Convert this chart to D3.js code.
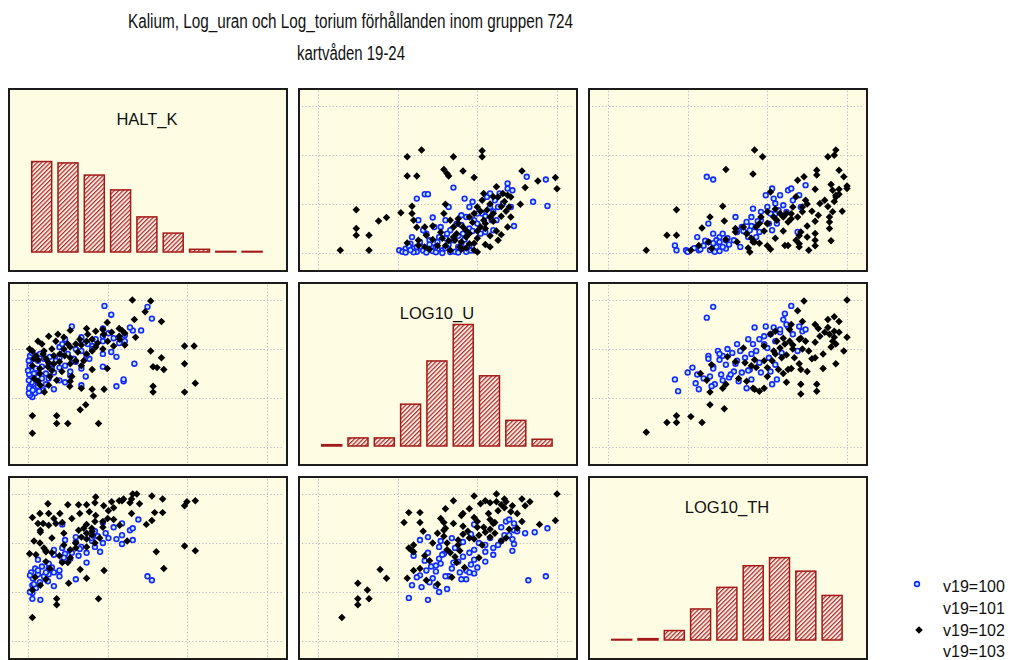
<!DOCTYPE html>
<html><head><meta charset="utf-8">
<script src="https://cdn.jsdelivr.net/npm/d3@7"></script>
<style>body{margin:0;background:#fff;} svg{display:block;font-family:"Liberation Sans",Arial,sans-serif;}</style>
</head><body><svg id="c" width="1014" height="660"></svg>
<script>
// ---------- text ----------
const titleLine1 = "Kalium, Log_uran och Log_torium förhållanden inom gruppen 724";
const titleLine2 = "kartvåden 19-24";
const varNames = ["HALT_K", "LOG10_U", "LOG10_TH"];
const seriesNames = ["v19=100", "v19=101", "v19=102", "v19=103"];

// ---------- axis ticks (grid lines) ----------
const ticksK = [0, 2, 4, 6];
const ticksU = [0, 0.5, 1.0, 1.5];
const ticksTh = [0, 0.5, 1.0, 1.5];

// ---------- histogram counts (9 bins each) ----------
const histBins = ["b1","b2","b3","b4","b5","b6","b7","b8","b9"];
const histK  = [67, 66, 57, 46, 26, 14, 2, 0, 0];
const histU  = [1, 6, 6, 31, 63, 90, 52, 19, 5];
const histTh = [0, 1, 7, 23, 39, 55, 61, 51, 33];

// ---------- scatter data: [K, U] ----------
const kuV100 = [[0.11,0.51],[0.18,0.55],[0.65,0.59],[0.18,0.60],[2.22,0.62],[1.34,0.63],[0.25,0.65],[2.40,0.67],[2.40,0.69],[0.79,0.68],[0.52,0.70],[1.45,0.72],[1.06,0.73],[0.25,0.74],[0.65,0.76],[0.11,0.78],[1.34,0.80],[1.88,0.82],[0.93,0.83],[2.67,0.85],[0.52,0.85],[1.20,0.87],[0.25,0.88],[1.54,0.90],[0.79,0.91],[2.22,0.92],[0.18,0.92],[1.88,0.95],[2.09,0.97],[1.34,0.98],[1.20,1.00],[0.79,1.02],[1.61,1.03],[0.86,1.05],[2.29,1.06],[1.88,1.08],[1.34,1.09],[0.93,1.10],[2.15,1.11],[1.34,1.12],[1.88,1.13],[2.43,1.14],[2.02,1.16],[2.84,1.19],[2.63,1.19],[1.88,1.21],[2.56,1.22],[1.10,1.23],[3.11,1.31],[2.09,1.35],[3.00,1.43],[1.92,1.44],[2.43,1.08],[1.61,1.00],[1.47,0.93],[0.79,0.81],[1.06,0.77],[0.93,0.66],[0.38,0.58],[0.25,0.71],[0.05,0.62],[0.10,0.66],[0.08,0.72],[0.15,0.75],[0.20,0.80],[0.05,0.86],[0.35,0.70],[0.45,0.64],[0.28,0.57],[0.05,0.53],[0.30,0.95],[0.40,0.90],[0.02,0.55],[0.03,0.60],[0.02,0.68],[0.03,0.74],[0.00,0.78],[0.04,0.83],[0.02,0.88],[0.05,0.93],[0.10,0.96],[0.45,0.75],[0.60,0.80],[0.70,0.88],[0.55,0.92],[1.00,0.95],[1.15,0.90],[0.90,0.97],[1.50,1.05],[1.70,1.10],[0.35,0.82],[0.12,0.58],[0.25,0.62]];
const kuV102 = [[0.11,0.14],[0.11,0.32],[1.77,0.24],[1.00,0.24],[0.72,0.24],[0.72,0.32],[1.31,0.38],[1.45,0.43],[1.64,0.52],[3.93,0.56],[3.14,0.56],[3.14,0.62],[4.20,0.65],[1.91,0.59],[1.61,0.59],[1.34,0.60],[0.41,0.56],[0.52,0.63],[0.31,0.63],[0.25,0.67],[1.06,0.67],[0.72,0.68],[3.41,0.79],[3.24,0.81],[3.14,0.82],[3.93,0.85],[3.35,0.91],[3.08,0.98],[4.17,1.03],[3.93,1.03],[1.99,0.80],[1.61,0.79],[1.34,0.83],[1.06,0.85],[0.79,0.87],[0.52,0.86],[0.25,0.89],[0.11,0.83],[1.06,0.91],[0.65,0.93],[0.38,0.95],[0.11,0.98],[0.04,1.00],[1.61,0.98],[1.88,1.00],[2.15,1.03],[2.43,1.04],[1.75,1.06],[1.47,1.08],[1.61,1.10],[2.70,1.12],[2.29,1.13],[2.43,1.16],[2.36,1.19],[2.29,1.21],[1.88,1.20],[1.47,1.21],[1.06,1.19],[0.52,1.13],[1.99,1.27],[3.35,1.28],[2.67,1.30],[2.94,1.38],[3.08,1.49],[2.62,1.50],[1.06,1.02],[1.34,1.04],[1.47,0.95],[0.92,0.93],[0.65,0.85],[1.20,0.88],[0.45,0.90],[0.80,0.95],[1.25,0.97],[1.00,1.05],[2.00,1.08],[1.90,1.15],[2.10,1.17],[1.30,1.10],[0.30,0.75],[0.55,0.72],[0.85,0.77],[0.15,0.70],[1.05,0.62],[0.60,1.00],[0.30,0.80],[0.50,0.82],[0.20,0.93],[0.35,1.05],[0.70,1.08],[0.90,1.12],[1.50,1.15],[1.70,1.18],[1.20,1.05],[0.90,1.00],[0.60,0.78],[1.10,0.72],[0.40,0.98],[0.15,0.90],[1.70,1.02],[2.30,1.10],[1.40,0.88],[0.75,1.15],[0.25,1.08]];

// ---------- scatter data: [K, Th] ----------
const kthV100 = [[0.31,0.42],[0.11,0.43],[0.11,0.49],[0.65,0.56],[0.11,0.57],[3.11,0.62],[3.00,0.66],[1.20,0.63],[0.45,0.63],[0.79,0.66],[0.25,0.68],[0.65,0.70],[0.79,0.72],[0.18,0.74],[1.47,0.80],[0.86,0.81],[0.25,0.83],[1.06,0.84],[1.27,0.87],[0.93,0.89],[1.47,0.90],[1.81,0.91],[1.06,0.92],[0.86,0.95],[1.34,0.96],[2.36,0.99],[1.88,1.00],[1.20,1.01],[1.61,1.02],[2.63,1.03],[2.22,1.04],[1.20,1.06],[1.75,1.07],[2.36,1.08],[1.95,1.10],[2.56,1.13],[2.63,1.15],[2.15,1.16],[0.86,1.19],[2.36,1.20],[1.88,1.21],[2.77,1.24],[1.68,0.96],[0.65,0.93],[0.52,0.79],[0.52,0.68],[0.52,0.74],[0.65,0.88],[0.93,1.03],[1.68,1.12],[2.02,1.05],[0.05,0.50],[0.20,0.54],[0.30,0.60],[0.12,0.64],[0.08,0.70],[0.35,0.76],[0.50,0.61],[0.15,0.58],[0.25,0.72],[0.40,0.66],[0.60,0.75],[0.90,0.85],[1.10,0.90],[1.30,0.94],[1.60,1.05],[0.45,0.70],[0.05,0.67]];
const kthV102 = [[0.11,0.24],[0.72,0.37],[0.72,0.43],[1.77,0.43],[0.11,0.52],[0.31,0.57],[1.02,0.59],[1.47,0.64],[0.45,0.63],[0.18,0.65],[1.91,0.72],[1.31,0.73],[3.41,0.74],[0.55,0.74],[0.86,0.80],[1.06,0.85],[0.04,0.89],[3.22,0.91],[4.20,0.92],[3.93,0.97],[0.45,0.92],[1.20,0.95],[1.47,0.96],[1.68,1.00],[2.49,1.02],[1.47,1.04],[1.61,1.08],[1.47,1.10],[0.31,1.11],[0.31,1.13],[1.27,1.13],[1.88,1.16],[0.52,1.18],[2.97,1.19],[0.38,1.20],[0.86,1.21],[1.68,1.22],[3.11,1.23],[2.15,1.24],[0.65,1.25],[0.11,1.26],[0.52,1.30],[3.38,1.31],[3.18,1.31],[1.54,1.32],[2.02,1.33],[2.15,1.36],[3.93,1.38],[1.47,1.39],[1.00,1.39],[1.27,1.39],[2.56,1.41],[1.68,1.41],[3.99,1.42],[4.20,1.43],[2.36,1.43],[2.29,1.43],[3.38,1.45],[3.11,1.48],[2.73,1.50],[2.63,1.50],[0.45,0.91],[0.45,0.81],[0.79,0.87],[1.06,0.93],[1.20,1.00],[1.34,1.06],[1.61,1.12],[1.47,1.19],[1.88,1.22],[0.60,1.05],[0.90,1.10],[1.20,1.00],[1.60,1.15],[1.80,1.05],[2.00,1.25],[2.30,1.18],[0.40,0.95],[1.00,0.80],[0.20,0.88],[0.15,1.02],[2.60,1.30],[2.40,1.45],[0.80,1.30],[1.70,1.28],[0.30,1.30],[0.50,1.40],[0.70,1.20],[1.10,1.25],[1.30,1.30],[1.90,1.38],[2.10,1.42],[2.60,1.45],[0.30,1.00],[0.60,0.90],[0.90,0.98],[1.40,1.15],[0.25,1.20],[1.70,1.47],[2.80,1.40]];

// ---------- scatter data: [U, Th] ----------
const uthV100 = [[0.69,0.42],[0.57,0.44],[0.76,0.50],[0.81,0.53],[0.65,0.55],[0.59,0.57],[1.32,0.62],[1.43,0.66],[0.93,0.63],[0.72,0.64],[0.82,0.66],[0.64,0.67],[0.98,0.69],[0.89,0.70],[0.74,0.71],[0.84,0.74],[0.71,0.76],[0.96,0.78],[0.77,0.79],[0.88,0.81],[0.67,0.82],[0.98,0.83],[0.76,0.84],[0.91,0.86],[1.10,0.88],[0.79,0.89],[0.69,0.90],[1.22,0.92],[0.98,0.93],[0.86,0.95],[0.76,0.96],[1.13,0.98],[1.23,0.99],[1.01,1.00],[0.91,1.01],[0.77,1.02],[0.64,1.03],[1.22,1.04],[1.08,1.05],[0.69,1.06],[1.17,1.08],[0.96,1.09],[1.36,1.11],[1.23,1.13],[1.44,1.15],[1.15,1.16],[0.98,1.19],[1.23,1.20],[1.18,1.22],[1.20,1.24],[1.05,0.81],[1.05,0.91],[0.74,0.77],[0.60,0.87],[0.93,0.72],[0.84,1.05],[0.74,0.56],[0.70,0.60],[0.80,0.66],[0.90,0.63],[0.95,0.70],[1.00,0.75],[0.85,0.80],[0.78,0.88],[0.95,0.90],[1.10,0.95],[1.15,1.02],[1.20,1.08],[1.25,1.12],[0.68,0.72],[0.62,0.65],[1.30,1.10],[1.05,0.98]];
const uthV102 = [[0.15,0.24],[0.25,0.37],[0.25,0.43],[0.32,0.43],[0.31,0.52],[0.25,0.59],[0.43,0.64],[0.56,0.64],[0.39,0.73],[0.68,0.62],[0.75,0.58],[0.84,0.65],[0.60,0.72],[0.64,0.74],[0.87,0.80],[1.01,0.85],[0.86,0.86],[0.67,0.87],[0.60,0.91],[0.59,0.92],[0.81,0.93],[0.57,0.95],[0.60,0.98],[0.89,0.92],[0.81,1.00],[1.15,1.02],[0.88,1.03],[1.08,1.06],[0.79,1.07],[0.91,1.09],[1.05,1.11],[0.94,1.12],[0.79,1.13],[1.20,1.14],[1.00,1.16],[0.91,1.17],[1.39,1.19],[1.11,1.21],[0.79,1.21],[0.64,1.21],[0.54,1.21],[1.28,1.22],[1.49,1.23],[1.08,1.24],[0.77,1.25],[0.98,1.26],[0.91,1.30],[0.64,1.31],[0.57,1.31],[1.21,1.32],[1.13,1.33],[1.17,1.36],[1.30,1.38],[1.15,1.39],[1.08,1.41],[1.18,1.42],[1.05,1.43],[0.85,1.43],[1.28,1.45],[0.98,1.48],[1.50,1.50],[1.12,1.50],[0.98,1.04],[1.01,1.08],[1.11,1.10],[1.08,1.14],[0.80,1.15],[0.85,1.20],[0.90,1.28],[0.95,1.35],[1.02,1.40],[1.07,1.30],[1.12,1.42],[1.17,1.45],[1.22,1.38],[1.25,1.30],[0.88,0.98],[0.95,1.05],[1.00,1.22],[0.72,1.00],[0.75,1.10],[0.70,0.82],[0.83,0.90],[0.92,0.75],[1.03,0.98],[1.10,1.20],[0.80,1.35],[0.66,1.12],[1.18,1.05],[1.25,1.15],[1.33,1.42],[1.04,1.16]];

// ---------- layout ----------
const svg = d3.select("#c");
const PW = 278, PH = 182;
const colX = [9, 299, 589], rowY = [89, 283, 477];
const ticks = [ticksK, ticksU, ticksTh];
const hists = [histK, histU, histTh];
const pairs = {
  "0-1": {v100: kuV100, v102: kuV102},
  "0-2": {v100: kthV100, v102: kthV102},
  "1-2": {v100: uthV100, v102: uthV102}
};
const bg = "#fefde4", red = "#a31818";

const defs = svg.append("defs");
const pat = defs.append("pattern").attr("id","hatch").attr("patternUnits","userSpaceOnUse")
  .attr("width",3.1).attr("height",3.1).attr("patternTransform","rotate(45)");
pat.append("rect").attr("width",3.1).attr("height",3.1).attr("fill","#fbeee2");
pat.append("line").attr("x1",0.6).attr("y1",0).attr("x2",0.6).attr("y2",3.1).attr("stroke","#b42a2a").attr("stroke-width",1.25);

// title
svg.append("text").attr("x",350.5).attr("y",28).attr("text-anchor","middle").attr("font-size",20)
  .attr("textLength",445).attr("lengthAdjust","spacingAndGlyphs").attr("fill","#111").text(titleLine1);
svg.append("text").attr("x",351).attr("y",60).attr("text-anchor","middle").attr("font-size",20)
  .attr("textLength",108).attr("lengthAdjust","spacingAndGlyphs").attr("fill","#111").text(titleLine2);

const diamond = d3.symbol().type(d3.symbolSquare).size(28)();
const xs = ticks.map(t => d3.scaleLinear().domain([t[0], t[t.length-1]]).range([19, 258]));
const ys = ticks.map(t => d3.scaleLinear().domain([t[0], t[t.length-1]]).range([164, 17]));

for (let r = 0; r < 3; r++) {
  for (let c = 0; c < 3; c++) {
    const g = svg.append("g").attr("transform", `translate(${colX[c]},${rowY[r]})`);
    g.append("rect").attr("width",PW).attr("height",PH).attr("fill",bg);
    if (r === c) {
      const band = d3.scaleBand().domain(histBins).range([22.7, 253.1]).paddingInner(0.24).paddingOuter(0);
      const hy = d3.scaleLinear().domain([0, 100]).range([163, 28]);
      g.selectAll("rect.bar").data(hists[r]).join("rect").attr("class","bar")
        .attr("x",(d,i)=>band(histBins[i])).attr("width",band.bandwidth())
        .attr("y",d=>Math.min(hy(d), 162.4)).attr("height",d=>Math.max(hy(0)-hy(d), 0.6))
        .attr("fill","url(#hatch)").attr("stroke",red).attr("stroke-width",1.5);
      g.append("text").attr("x",138).attr("y",35.5).attr("text-anchor","middle")
        .attr("font-size",16.5).attr("fill","#111").text(varNames[r]);
    } else {
      const xv = c, yv = r;
      const x = xs[xv], y = ys[yv];
      const key = Math.min(xv,yv) + "-" + Math.max(xv,yv);
      const p = pairs[key];
      const lo = Math.min(xv,yv);
      const getX = d => x(xv === lo ? d[0] : d[1]);
      const getY = d => y(yv === lo ? d[0] : d[1]);
      const gridG = g.append("g").attr("stroke","#b8b8c8").attr("stroke-width",1).attr("stroke-dasharray","1.2,2.2");
      gridG.selectAll("line.v").data(ticks[xv]).join("line").attr("class","v")
        .attr("x1",d=>Math.round(x(d))+0.5).attr("x2",d=>Math.round(x(d))+0.5).attr("y1",2).attr("y2",PH-2);
      gridG.selectAll("line.h").data(ticks[yv]).join("line").attr("class","h")
        .attr("y1",d=>Math.round(y(d))+0.5).attr("y2",d=>Math.round(y(d))+0.5).attr("x1",3).attr("x2",PW-3);
      g.selectAll("circle.b").data(p.v100).join("circle").attr("class","b")
        .attr("cx",getX).attr("cy",getY).attr("r",2.4)
        .attr("fill","#c2f0ff").attr("stroke","#1428ff").attr("stroke-width",1.6);
      g.selectAll("path.k").data(p.v102).join("path").attr("class","k")
        .attr("d",diamond).attr("transform",d=>`translate(${getX(d)},${getY(d)}) rotate(45)`)
        .attr("fill","#000");
    }
    g.append("rect").attr("width",PW).attr("height",PH).attr("fill","none")
      .attr("stroke","#1c1c1c").attr("stroke-width",2);
  }
}

// legend
const legY = [592, 614, 636, 657];
const leg = svg.append("g");
leg.selectAll("text").data(seriesNames).join("text")
  .attr("x",943).attr("y",(d,i)=>legY[i]).attr("font-size",16).attr("fill","#111").text(d=>d);
leg.append("circle").attr("cx",917).attr("cy",legY[0]-8).attr("r",2.4)
  .attr("fill","#c2f0ff").attr("stroke","#1428ff").attr("stroke-width",1.6);
leg.append("path").attr("d",diamond).attr("transform",`translate(919,${legY[2]-6}) rotate(45)`).attr("fill","#000");
</script></body></html>
